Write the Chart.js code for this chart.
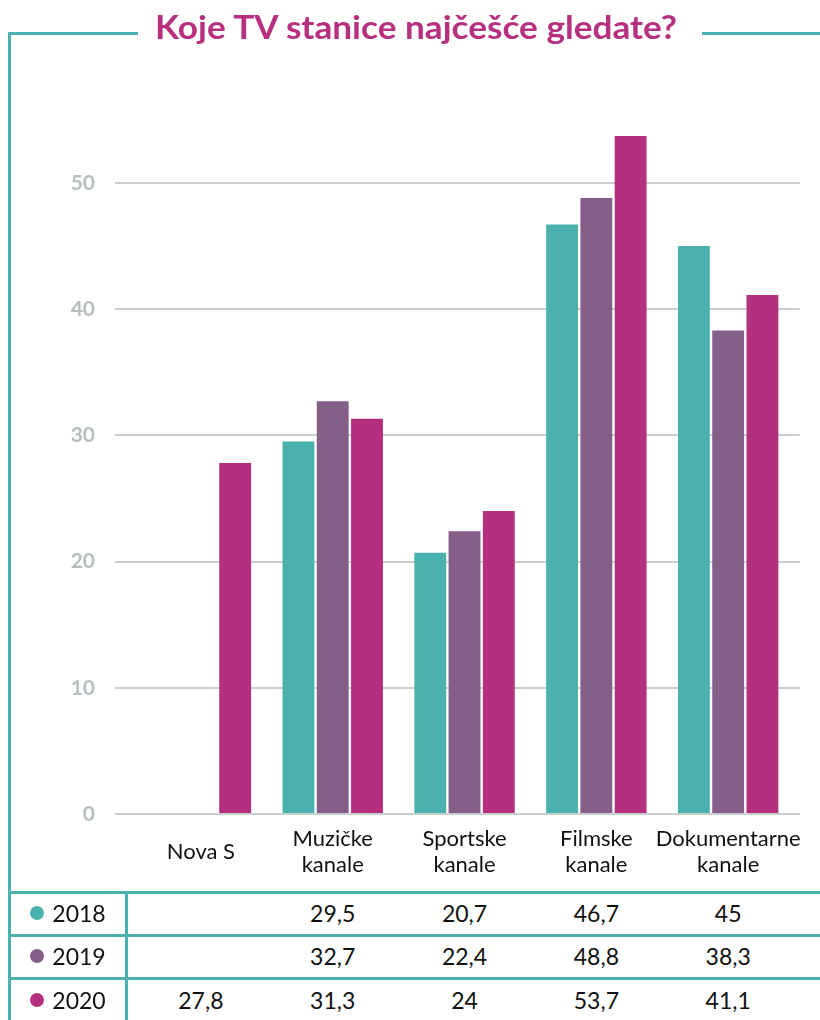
<!DOCTYPE html>
<html>
<head>
<meta charset="utf-8">
<script src="https://cdn.jsdelivr.net/npm/chart.js@4.4.1/dist/chart.umd.min.js"></script>
<style>
  body { margin: 0; background: #fff; width: 820px; height: 1020px; overflow: hidden; position: relative; font-family: Lato, 'Open Sans', sans-serif; }
  .ln { position: absolute; background: #4ab1ae; }
  #title { position: absolute; left: 155px; top: 6px; font: 700 33px Lato, sans-serif; color: #b7307f; white-space: nowrap; transform-origin: 0 0; line-height: 40px; }
  #chart { position: absolute; left: 0; top: 0; }
  .cell { position: absolute; font-size: 23px; color: #111; transform: translate(-50%, -50%); white-space: nowrap; }
  .dot { position: absolute; width: 14px; height: 14px; border-radius: 50%; }
</style>
</head>
<body>
<canvas id="chart" width="820" height="890"></canvas>
<div id="title">Koje TV stanice najčešće gledate?</div>
<div id="frame"></div>
<div id="table"></div>
<script>
// podaci
const categories = [['Nova S'], ['Muzičke', 'kanale'], ['Sportske', 'kanale'], ['Filmske', 'kanale'], ['Dokumentarne', 'kanale']];
const years = ['2018', '2019', '2020'];
const data2018 = [null, 29.5, 20.7, 46.7, 45];
const data2019 = [null, 32.7, 22.4, 48.8, 38.3];
const data2020 = [27.8, 31.3, 24, 53.7, 41.1];
const yTicks = [0, 10, 20, 30, 40, 50];
const colors = ['#4ab1ae', '#855e8a', '#b42f7e'];

const series = [data2018, data2019, data2020];

// okvir
const frame = document.getElementById('frame');
function line(l, t, w, h) {
  const d = document.createElement('div');
  d.className = 'ln';
  d.style.cssText = `left:${l}px;top:${t}px;width:${w}px;height:${h}px`;
  frame.appendChild(d);
}
line(8, 32, 130, 3);
line(702, 32, 118, 3);
line(8, 32, 3, 988);
line(8, 891, 812, 3);
line(8, 934, 812, 3);
line(8, 977, 812, 3);
line(125, 891, 3, 129);

// naslov - skaliraj na sirinu
const title = document.getElementById('title');
const tw = title.getBoundingClientRect().width;
title.style.transform = `scaleX(${522 / tw})`;

// produzi horizontalne linije mreze malo desno
const gridExtend = {
  id: 'gridExtend',
  beforeDatasetsDraw(c) {
    const { ctx, chartArea, scales } = c;
    ctx.save();
    ctx.strokeStyle = '#c9cfcd';
    ctx.lineWidth = 2;
    scales.y.ticks.forEach(t => {
      const y = Math.round(scales.y.getPixelForValue(t.value));
      ctx.beginPath();
      ctx.moveTo(chartArea.right, y);
      ctx.lineTo(chartArea.right + 6, y);
      ctx.stroke();
    });
    ctx.restore();
  }
};

const ctx = document.getElementById('chart').getContext('2d');
const chart = new Chart(ctx, {
  type: 'bar',
  data: {
    labels: categories,
    datasets: years.map((y, i) => ({
      label: y,
      data: series[i],
      backgroundColor: colors[i],
      borderWidth: 0,
      barPercentage: 0.93,
      categoryPercentage: 0.78
    }))
  },
  options: {
    responsive: false,
    animation: false,
    layout: { padding: { top: 107, right: 23, left: 0, bottom: 0 } },
    plugins: { legend: { display: false }, tooltip: { enabled: false } },
    scales: {
      x: {
        grid: { display: false },
        border: { display: false },
        afterFit: s => { s.height = 76; },
        ticks: {
          padding: 17,
          crossAlign: 'center',
          maxRotation: 0,
          minRotation: 0,
          autoSkip: false,
          color: '#111',
          font: { family: 'Lato', size: 22, lineHeight: 1.18 }
        }
      },
      y: {
        min: 0,
        max: 56,
        afterFit: s => { s.width = 135; },
        afterBuildTicks: s => { s.ticks = yTicks.map(v => ({ value: v })); },
        border: { display: false },
        grid: { color: '#c9cfcd', lineWidth: 2, tickLength: 20 },
        ticks: {
          padding: 20,
          color: '#b5bfbe',
          font: { family: 'Lato', size: 21, weight: 'bold' }
        }
      }
    }
  },
  plugins: [gridExtend]
});

// tabela ispod grafikona
const table = document.getElementById('table');
const rowY = [913, 956, 1000];
const xScale = chart.scales.x;
years.forEach((y, r) => {
  const dot = document.createElement('div');
  dot.className = 'dot';
  dot.style.cssText = `left:30px;top:${rowY[r] - 7}px;background:${colors[r]}`;
  table.appendChild(dot);
  const lab = document.createElement('div');
  lab.className = 'cell';
  lab.textContent = y;
  lab.style.left = '79px';
  lab.style.top = rowY[r] + 'px';
  table.appendChild(lab);
  series[r].forEach((v, i) => {
    if (v === null) return;
    const c = document.createElement('div');
    c.className = 'cell';
    c.textContent = String(v).replace('.', ',');
    c.style.left = xScale.getPixelForValue(i) + 'px';
    c.style.top = rowY[r] + 'px';
    table.appendChild(c);
  });
});
</script>
</body>
</html>
